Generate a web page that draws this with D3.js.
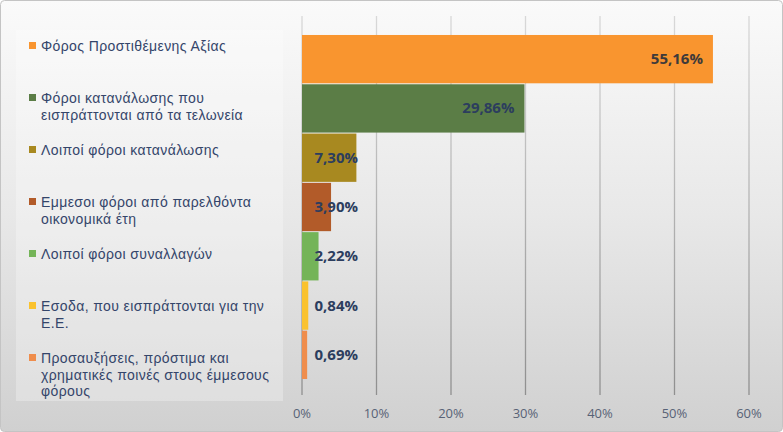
<!DOCTYPE html>
<html><head><meta charset="utf-8">
<script src="https://cdn.jsdelivr.net/npm/d3@7"></script>
<style>html,body{margin:0;padding:0;background:#fff}svg{display:block}</style>
</head><body>
<script>
const categories = [
  "Φόρος Προστιθέμενης Αξίας",
  "Φόροι κατανάλωσης που εισπράττονται από τα τελωνεία",
  "Λοιποί φόροι κατανάλωσης",
  "Εμμεσοι φόροι από παρελθόντα οικονομικά έτη",
  "Λοιποί φόροι συναλλαγών",
  "Εσοδα, που εισπράττονται για την Ε.Ε.",
  "Προσαυξήσεις, πρόστιμα και χρηματικές ποινές στους έμμεσους φόρους"
];
const legendLines = [
  ["Φόρος Προστιθέμενης Αξίας"],
  ["Φόροι κατανάλωσης που", "εισπράττονται από τα τελωνεία"],
  ["Λοιποί φόροι κατανάλωσης"],
  ["Εμμεσοι φόροι από παρελθόντα", "οικονομικά έτη"],
  ["Λοιποί φόροι συναλλαγών"],
  ["Εσοδα, που εισπράττονται για την", "Ε.Ε."],
  ["Προσαυξήσεις, πρόστιμα και", "χρηματικές ποινές στους έμμεσους", "φόρους"]
];
const values = [55.16, 29.86, 7.30, 3.90, 2.22, 0.84, 0.69];
const labels = ["55,16%", "29,86%", "7,30%", "3,90%", "2,22%", "0,84%", "0,69%"];
const colors = ["#f9952f", "#5b7d46", "#a88920", "#b25b29", "#74b458", "#fac22e", "#ef8d4c"];
const ticks = [0, 10, 20, 30, 40, 50, 60];
const tickLabels = ["0%", "10%", "20%", "30%", "40%", "50%", "60%"];

const W = 783, H = 432;
const svg = d3.select("body").append("svg").attr("width", W).attr("height", H);
const defs = svg.append("defs");
const bg = defs.append("linearGradient").attr("id", "bg").attr("x1", 0).attr("y1", 0).attr("x2", 0).attr("y2", 1);
bg.append("stop").attr("offset", "0").attr("stop-color", "#fafafa");
bg.append("stop").attr("offset", "0.5").attr("stop-color", "#e8e8e8");
bg.append("stop").attr("offset", "1").attr("stop-color", "#d0d0d0");
const gg = defs.append("linearGradient").attr("id", "grid").attr("gradientUnits", "userSpaceOnUse")
  .attr("x1", 0).attr("y1", 16).attr("x2", 0).attr("y2", 395);
gg.append("stop").attr("offset", "0").attr("stop-color", "#d8d8d8");
gg.append("stop").attr("offset", "1").attr("stop-color", "#8f8f8f");

svg.append("rect").attr("x", 0.5).attr("y", 0.5).attr("width", W - 1).attr("height", H - 1)
  .attr("rx", 4).attr("fill", "url(#bg)").attr("stroke", "#c4c4c4");

// legend box
svg.append("rect").attr("x", 16).attr("y", 30).attr("width", 267).attr("height", 371)
  .attr("fill", "#ffffff").attr("fill-opacity", 0.28);

const x = d3.scaleLinear().domain([0, 60]).range([302, 749]);
const y = d3.scaleBand().domain(categories).range([34, 380]).padding(0.02);

// gridlines + ticks
svg.append("g").selectAll("line").data(ticks).join("line")
  .attr("x1", d => x(d)).attr("x2", d => x(d)).attr("y1", 16).attr("y2", 395)
  .attr("stroke", "url(#grid)").attr("stroke-width", 1.3);

svg.append("g").selectAll("text").data(ticks).join("text")
  .attr("x", d => x(d)).attr("y", 418).attr("text-anchor", "middle")
  .attr("font-family", "Open Sans, sans-serif").attr("font-size", 13).attr("fill", "#586276")
  .text((d, i) => tickLabels[i]);

// bars
svg.append("g").selectAll("rect").data(values).join("rect")
  .attr("x", x(0)).attr("y", (d, i) => y(categories[i]))
  .attr("width", d => x(d) - x(0)).attr("height", y.bandwidth())
  .attr("fill", (d, i) => colors[i]);

// labels
svg.append("g").selectAll("text").data(values).join("text")
  .attr("x", d => Math.max(x(d) - 10, 358))
  .attr("y", (d, i) => y(categories[i]) + y.bandwidth() / 2 + 5)
  .attr("text-anchor", "end")
  .attr("font-family", "Open Sans, sans-serif").attr("font-weight", "bold").attr("font-size", 15)
  .attr("fill", (d, i) => i === 0 ? "#3e3a3a" : "#2c3d5e")
  .text((d, i) => labels[i]);

// legend
const ly = d3.scaleLinear().domain([0, 6]).range([46, 358]);
const lg = svg.append("g").selectAll("g").data(legendLines).join("g");
lg.append("rect").attr("x", 29).attr("y", (d, i) => ly(i) - 4).attr("width", 7).attr("height", 7)
  .attr("fill", (d, i) => colors[i]);
lg.each(function (lines, i) {
  d3.select(this).selectAll("text").data(lines).join("text")
    .attr("x", 41).attr("y", (l, j) => ly(i) + 5 + j * 16.5)
    .attr("font-family", "Liberation Sans, Arial, sans-serif").attr("font-size", 14)
    .attr("letter-spacing", 0.4).attr("fill", "#34456a")
    .text(l => l);
});
</script>
</body></html>
